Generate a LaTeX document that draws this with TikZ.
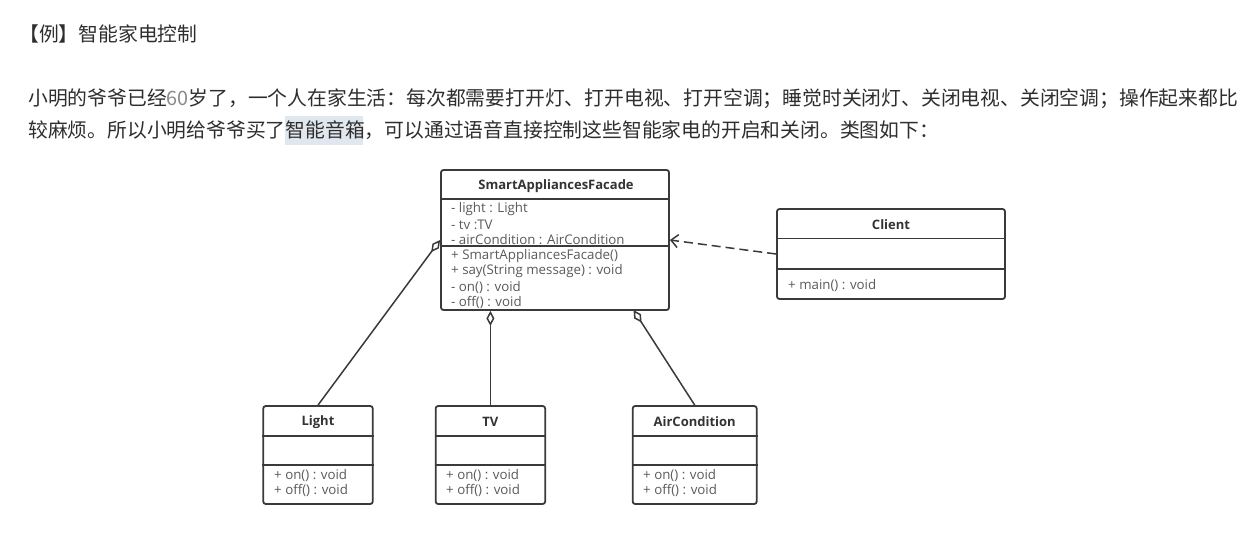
\documentclass[tikz,border=0pt]{standalone}
\usepackage{fontspec}
\setmainfont{Open Sans}
\newfontfamily\cjk{Noto Sans CJK SC}
\usepackage{xcolor}
\usetikzlibrary{arrows.meta}
\definecolor{umlline}{HTML}{3A3A3A}
\definecolor{umltext}{HTML}{333333}
\definecolor{membertext}{HTML}{5A5A5A}
\definecolor{bodytext}{HTML}{2E2E2E}
\definecolor{digits}{HTML}{8A8A8A}
\definecolor{marked}{HTML}{E1E7EE}

\begin{document}
\begin{tikzpicture}[x=1pt,y=-1pt,
    umlbox/.style={draw=umlline, line width=1.8pt, rounded corners=2.5pt, inner sep=0pt},
    sepline/.style={draw=umlline, line width=1.6pt},
    classname/.style={font=\bfseries\fontsize{13}{15}\selectfont, text=umltext, inner sep=0pt},
    member/.style={anchor=west, font=\fontsize{13.3}{15}\selectfont, text=membertext, inner sep=0pt},
    cjktext/.style={anchor=base west, font=\cjk\fontsize{19.8}{24}\selectfont, text=bodytext, inner sep=0pt},
    aggr/.style={draw=umlline, line width=1.5pt, {Diamond[open,length=15pt,width=8pt]}-},
    depend/.style={draw=umlline, line width=1.5pt, dash pattern=on 9pt off 5pt, -{Straight Barb[length=7pt,width=13pt]}}]
    \useasboundingbox (0,0) rectangle (1252,547);
    \fill[white] (0,0) rectangle (1252,547);

    % text above the diagram
    \fill[marked] (285,116) rectangle (363,145);
    \node[cjktext] (title) at (19,41) {【例】智能家电控制};
    \node[cjktext] (line1) at (28,105.5) {小明的爷爷已经{\color{digits}60}岁了，一个人在家生活：每次都需要打开灯、打开电视、打开空调；睡觉时关闭灯、关闭电视、关闭空调；操作起来都比};
    \node[cjktext] (line2) at (28,137.5) {较麻烦。所以小明给爷爷买了智能音箱，可以通过语音直接控制这些智能家电的开启和关闭。类图如下：};

    % facade
    \node[umlbox, minimum width=228pt, minimum height=140pt] (facade) at (555,240) {};
    \draw[sepline] (facade.west |- 0,199) -- (facade.east |- 0,199);
    \draw[sepline] (facade.west |- 0,246) -- (facade.east |- 0,246);
    \node[classname] (facadename) at (556,186) {SmartAppliancesFacade};
    \node[member] (fa1) at (451,209) {- light : Light};
    \node[member] (fa2) at (451,224.5) {- tv :TV};
    \node[member] (fa3) at (451,240) {- airCondition : AirCondition};
    \node[member] (fm1) at (451,256) {+ SmartAppliancesFacade()};
    \node[member] (fm2) at (451,271.5) {+ say(String message) : void};
    \node[member] (fm3) at (451,287) {- on() : void};
    \node[member] (fm4) at (451,302.5) {- off() : void};

    % client
    \node[umlbox, minimum width=228pt, minimum height=90pt] (client) at (891,254) {};
    \draw[sepline] (client.west |- 0,238.5) -- (client.east |- 0,238.5);
    \draw[sepline] (client.west |- 0,269) -- (client.east |- 0,269);
    \node[classname] (clientname) at (891,225) {Client};
    \node[member] (cm1) at (788,285.5) {+ main() : void};

    % appliances
    \node[umlbox, minimum width=109.5pt, minimum height=98pt] (light) at (318,455) {};
    \draw[sepline] (light.west |- 0,436) -- (light.east |- 0,436);
    \draw[sepline] (light.west |- 0,465) -- (light.east |- 0,465);
    \node[classname] (lightname) at (318,422) {Light};
    \node[member] (lm1) at (274,475) {+ on() : void};
    \node[member] (lm2) at (274,490.5) {+ off() : void};

    \node[umlbox, minimum width=109.5pt, minimum height=98pt] (tv) at (490.4,455) {};
    \draw[sepline] (tv.west |- 0,436) -- (tv.east |- 0,436);
    \draw[sepline] (tv.west |- 0,465) -- (tv.east |- 0,465);
    \node[classname] (tvname) at (490.4,422) {TV};
    \node[member] (tm1) at (446,475) {+ on() : void};
    \node[member] (tm2) at (446,490.5) {+ off() : void};

    \node[umlbox, minimum width=124pt, minimum height=98pt] (air) at (694.7,455) {};
    \draw[sepline] (air.west |- 0,436) -- (air.east |- 0,436);
    \draw[sepline] (air.west |- 0,465) -- (air.east |- 0,465);
    \node[classname] (airname) at (694.7,422) {AirCondition};
    \node[member] (am1) at (643,475) {+ on() : void};
    \node[member] (am2) at (643,490.5) {+ off() : void};

    % relations
    \coordinate (facadeair) at (633.5,310);
    \draw[aggr] (facade.west) -- (light.north);
    \draw[aggr] (tv.north |- facade.south) -- (tv.north);
    \draw[aggr] (facadeair) -- (air.north);
    \draw[depend] (client.west) -- (facade.east);
\end{tikzpicture}
\end{document}
